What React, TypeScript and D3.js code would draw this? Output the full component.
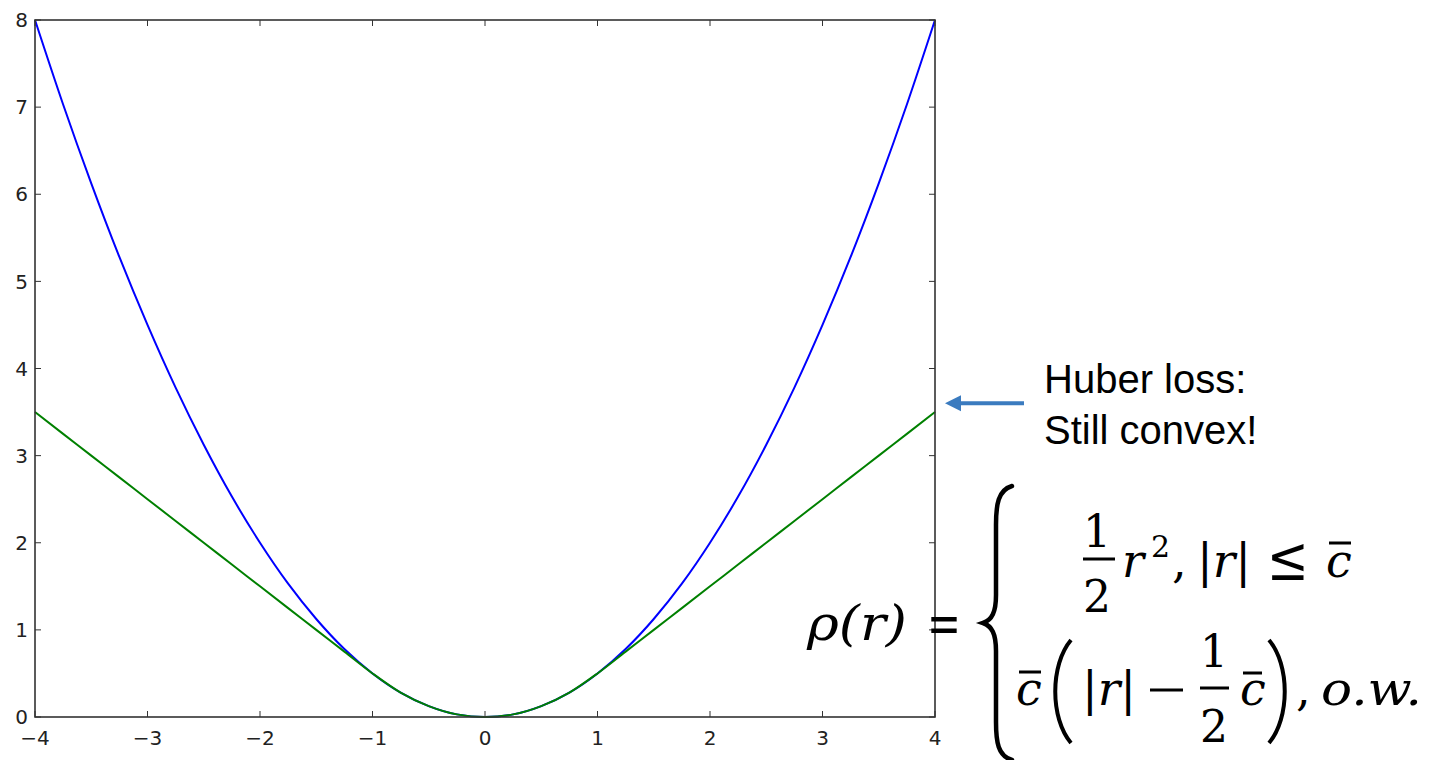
import React from "react";
import * as d3 from "d3";

// Residual grid (r) and the two loss curves sampled on it
const residuals = [
  -4, -3.75, -3.5, -3.25, -3, -2.75, -2.5, -2.25, -2, -1.75, -1.5, -1.25, -1,
  -0.75, -0.5, -0.25, 0, 0.25, 0.5, 0.75, 1, 1.25, 1.5, 1.75, 2, 2.25, 2.5,
  2.75, 3, 3.25, 3.5, 3.75, 4,
];
const squaredLoss = [
  8, 7.03, 6.125, 5.28, 4.5, 3.78, 3.125, 2.53, 2, 1.53, 1.125, 0.78, 0.5,
  0.28, 0.125, 0.03, 0, 0.03, 0.125, 0.28, 0.5, 0.78, 1.125, 1.53, 2, 2.53,
  3.125, 3.78, 4.5, 5.28, 6.125, 7.03, 8,
];
const huberLoss = [
  3.5, 3.25, 3, 2.75, 2.5, 2.25, 2, 1.75, 1.5, 1.25, 1, 0.75, 0.5, 0.28,
  0.125, 0.03, 0, 0.03, 0.125, 0.28, 0.5, 0.75, 1, 1.25, 1.5, 1.75, 2, 2.25,
  2.5, 2.75, 3, 3.25, 3.5,
];
const xTicks = [-4, -3, -2, -1, 0, 1, 2, 3, 4];
const yTicks = [0, 1, 2, 3, 4, 5, 6, 7, 8];
const annotationLines = ["Huber loss:", "Still convex!"];
const arrowTargetValue = 3.6;

const W = 1441;
const H = 760;
const plot = { left: 35, right: 935, top: 20, bottom: 717 };

export default function App() {
  const x = d3.scaleLinear().domain([-4, 4]).range([plot.left, plot.right]);
  const y = d3.scaleLinear().domain([0, 8]).range([plot.bottom, plot.top]);

  const line = (vals: number[]) =>
    d3
      .line<number>()
      .x((_, i) => x(residuals[i]))
      .y((v) => y(v))
      .curve(d3.curveMonotoneX)(vals) as string;

  const tickLen = 6;
  const axisColor = "#333";
  const tickFont = "'DejaVu Sans', sans-serif";
  const mathFont = "'DejaVu Serif', 'Liberation Serif', serif";
  const arrowY = y(arrowTargetValue);

  // brace path for the piecewise definition
  const brace = `M1012,486 C998,490 996,505 996,525 L996,595 C996,612 992,620 983,623 C992,626 996,634 996,651 L996,722 C996,742 998,756 1012,760`;

  return (
    <svg
      width={W}
      height={H}
      style={{ position: "absolute", left: 0, top: 0, background: "#fff" }}
    >
      <rect x={0} y={0} width={W} height={H} fill="#fff" />

      {/* curves */}
      <path d={line(squaredLoss)} fill="none" stroke="#0000ff" strokeWidth={2} />
      <path d={line(huberLoss)} fill="none" stroke="#008000" strokeWidth={2} />

      {/* frame */}
      <rect
        x={plot.left}
        y={plot.top}
        width={plot.right - plot.left}
        height={plot.bottom - plot.top}
        fill="none"
        stroke={axisColor}
        strokeWidth={1.6}
      />

      {/* ticks (inward, all four sides) */}
      {xTicks.map((t) => (
        <g key={"xt" + t}>
          <line x1={x(t)} x2={x(t)} y1={plot.bottom} y2={plot.bottom - tickLen} stroke={axisColor} strokeWidth={1} />
          <line x1={x(t)} x2={x(t)} y1={plot.top} y2={plot.top + tickLen} stroke={axisColor} strokeWidth={1} />
          <text
            x={x(t)}
            y={plot.bottom + 28}
            textAnchor="middle"
            fontFamily={tickFont}
            fontSize={20}
            fill="#222"
          >
            {t < 0 ? "\u2212" + Math.abs(t) : String(t)}
          </text>
        </g>
      ))}
      {yTicks.map((t) => (
        <g key={"yt" + t}>
          <line x1={plot.left} x2={plot.left + tickLen} y1={y(t)} y2={y(t)} stroke={axisColor} strokeWidth={1} />
          <line x1={plot.right} x2={plot.right - tickLen} y1={y(t)} y2={y(t)} stroke={axisColor} strokeWidth={1} />
          <text
            x={plot.left - 7}
            y={y(t)}
            dy="0.36em"
            textAnchor="end"
            fontFamily={tickFont}
            fontSize={20}
            fill="#222"
          >
            {t}
          </text>
        </g>
      ))}

      {/* annotation arrow */}
      <line x1={1024} x2={958} y1={arrowY} y2={arrowY} stroke="#3b7bbf" strokeWidth={4} />
      <path
        d={`M945,${arrowY} L961,${arrowY - 8} L961,${arrowY + 8} Z`}
        fill="#3b7bbf"
      />
      {annotationLines.map((s, i) => (
        <text
          key={s}
          x={1044}
          y={393 + i * 51}
          fontFamily="'Liberation Sans', Arial, sans-serif"
          fontSize={40}
          fill="#000"
        >
          {s}
        </text>
      ))}

      {/* piecewise definition of the Huber loss */}
      <g fill="#000" fontFamily={mathFont}>
        <text x={807} y={640} fontSize={48} fontStyle="italic" textLength={100} lengthAdjust="spacingAndGlyphs">
          ρ(r)
        </text>
        <text x={927} y={643} fontSize={58} textLength={34} lengthAdjust="spacingAndGlyphs">
          =
        </text>
        <path d={brace} fill="none" stroke="#000" strokeWidth={4.5} strokeLinecap="round" />

        {/* first case */}
        <text x={1097} y={547} fontSize={44} textAnchor="middle">1</text>
        <line x1={1083} x2={1115} y1={559} y2={559} stroke="#000" strokeWidth={3} />
        <text x={1097} y={612} fontSize={44} textAnchor="middle">2</text>
        <text x={1122} y={577} fontSize={46} fontStyle="italic">r</text>
        <text x={1151} y={557} fontSize={30}>2</text>
        <text x={1172} y={577} fontSize={46}>,</text>
        <text x={1197} y={577} fontSize={46} fontStyle="italic" textLength={54} lengthAdjust="spacingAndGlyphs">|r|</text>
        <text x={1267} y={580} fontSize={62} textLength={42} lengthAdjust="spacingAndGlyphs">≤</text>
        <text x={1326} y={577} fontSize={46} fontStyle="italic">c</text>
        <line x1={1329} x2={1351} y1={543} y2={543} stroke="#000" strokeWidth={3} />

        {/* second case */}
        <text x={1016} y={705} fontSize={46} fontStyle="italic">c</text>
        <line x1={1019} x2={1041} y1={672} y2={672} stroke="#000" strokeWidth={3} />
        <path d="M1071,640 C1050,665 1050,718 1071,743" fill="none" stroke="#000" strokeWidth={4} />
        <text x={1082} y={705} fontSize={46} fontStyle="italic" textLength={54} lengthAdjust="spacingAndGlyphs">|r|</text>
        <line x1={1150} x2={1183} y1={690} y2={690} stroke="#000" strokeWidth={3} />
        <text x={1214} y={667} fontSize={44} textAnchor="middle">1</text>
        <line x1={1200} x2={1229} y1={688} y2={688} stroke="#000" strokeWidth={3} />
        <text x={1214} y={742} fontSize={44} textAnchor="middle">2</text>
        <text x={1240} y={705} fontSize={46} fontStyle="italic">c</text>
        <line x1={1243} x2={1262} y1={673} y2={673} stroke="#000" strokeWidth={3} />
        <path d="M1269,640 C1290,665 1290,718 1269,743" fill="none" stroke="#000" strokeWidth={4} />
        <text x={1296} y={705} fontSize={46}>,</text>
        <text x={1321} y={705} fontSize={46} fontStyle="italic" textLength={101} lengthAdjust="spacingAndGlyphs">o.w.</text>
      </g>
    </svg>
  );
}
